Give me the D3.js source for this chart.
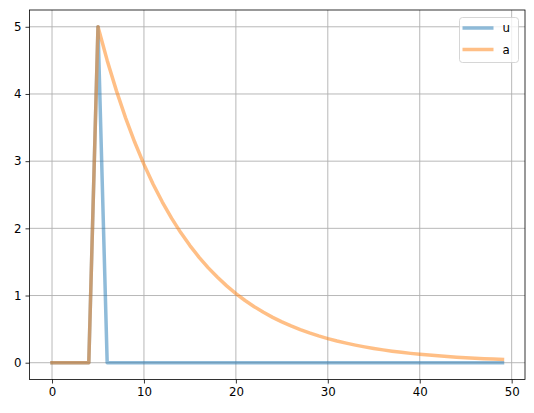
<!DOCTYPE html>
<html>
<head>
<meta charset="utf-8">
<script src="https://cdn.jsdelivr.net/npm/d3@7"></script>
<style>
  body { margin: 0; background: #fff; }
  text { font-family: "DejaVu Sans", sans-serif; }
</style>
</head>
<body>
<div id="chart"></div>
<script>
var w = 534;
var h = 413;

// time steps 0..49
var steps = d3.range(0, 50);

// u: single pulse at t = 5
var uValues = [0, 0, 0, 0, 0, 5, 0, 0, 0, 0,
  0, 0, 0, 0, 0, 0, 0, 0, 0, 0,
  0, 0, 0, 0, 0, 0, 0, 0, 0, 0,
  0, 0, 0, 0, 0, 0, 0, 0, 0, 0,
  0, 0, 0, 0, 0, 0, 0, 0, 0, 0];

// a: jumps to 5 at t = 5, then decays
var aValues = [0, 0, 0, 0, 0, 5, 4.5, 4.05, 3.645, 3.281,
  2.952, 2.657, 2.391, 2.152, 1.937, 1.743, 1.569, 1.412, 1.271, 1.144,
  1.029, 0.926, 0.834, 0.750, 0.675, 0.608, 0.547, 0.492, 0.443, 0.399,
  0.359, 0.323, 0.291, 0.262, 0.236, 0.212, 0.191, 0.172, 0.155, 0.139,
  0.125, 0.113, 0.102, 0.091, 0.082, 0.074, 0.067, 0.060, 0.054, 0.049];

var xTicks = [0, 10, 20, 30, 40, 50];
var yTicks = [0, 1, 2, 3, 4, 5];
var seriesNames = ["u", "a"];
var seriesColors = {"u": "#1f77b4", "a": "#ff7f0e"};

// plot area edges
var padL = 29.5, padR = 525, padT = 10, padB = 379.5;

var x = d3.scaleLinear().domain([-2.45, 51.45]).range([padL, padR]);
var y = d3.scaleLinear().domain([-0.25, 5.25]).range([padB, padT]);

var svg = d3.select("#chart").append("svg")
  .attr("width", w)
  .attr("height", h);

// grid
svg.append("g").selectAll("line")
  .data(xTicks)
  .enter().append("line")
  .attr("x1", d => x(d)).attr("x2", d => x(d))
  .attr("y1", padT).attr("y2", padB)
  .attr("stroke", "#b0b0b0").attr("stroke-width", 0.9);

svg.append("g").selectAll("line")
  .data(yTicks)
  .enter().append("line")
  .attr("x1", padL).attr("x2", padR)
  .attr("y1", d => y(d)).attr("y2", d => y(d))
  .attr("stroke", "#b0b0b0").attr("stroke-width", 0.9);

// lines
var series = {"u": uValues, "a": aValues};
var line = d3.line()
  .x((d, i) => x(steps[i]))
  .y(d => y(d));

seriesNames.forEach(function (name) {
  svg.append("path")
    .datum(series[name])
    .attr("d", line)
    .attr("fill", "none")
    .attr("stroke", seriesColors[name])
    .attr("stroke-opacity", 0.5)
    .attr("stroke-width", 3.5)
    .attr("stroke-linecap", "square")
    .attr("stroke-linejoin", "round");
});

// axes
var xAxis = svg.append("g")
  .attr("transform", "translate(0," + padB + ")")
  .call(d3.axisBottom(x).tickValues(xTicks).tickSize(4).tickPadding(4).tickFormat(d3.format("d")));
var yAxis = svg.append("g")
  .attr("transform", "translate(" + padL + ",0)")
  .call(d3.axisLeft(y).tickValues(yTicks).tickSize(4).tickPadding(4).tickFormat(d3.format("d")));

[xAxis, yAxis].forEach(function (ax) {
  ax.select(".domain").remove();
  ax.selectAll("line").attr("stroke", "#000").attr("stroke-width", 0.8);
  ax.selectAll("text")
    .attr("fill", "#000")
    .style("font-family", "DejaVu Sans, sans-serif")
    .style("font-size", "11.8px");
});

// frame
svg.append("rect")
  .attr("x", padL).attr("y", padT)
  .attr("width", padR - padL).attr("height", padB - padT)
  .attr("fill", "none")
  .attr("stroke", "#000")
  .attr("stroke-width", 0.8);

// legend
var legend = svg.append("g").attr("transform", "translate(459.5,17.5)");
legend.append("rect")
  .attr("width", 59).attr("height", 45)
  .attr("rx", 3).attr("ry", 3)
  .attr("fill", "#fff").attr("fill-opacity", 0.8)
  .attr("stroke", "#cccccc").attr("stroke-width", 0.8);

var legendItems = legend.selectAll(".legend-item")
  .data(seriesNames)
  .enter().append("g")
  .attr("class", "legend-item")
  .attr("transform", (d, i) => "translate(0," + (10.5 + i * 21.5) + ")");

legendItems.append("line")
  .attr("x1", 3).attr("x2", 34)
  .attr("stroke", d => seriesColors[d])
  .attr("stroke-opacity", 0.5)
  .attr("stroke-width", 3.5);

legendItems.append("text")
  .attr("x", 43)
  .attr("dy", "0.35em")
  .style("font-size", "11.8px")
  .text(d => d);
</script>
</body>
</html>
